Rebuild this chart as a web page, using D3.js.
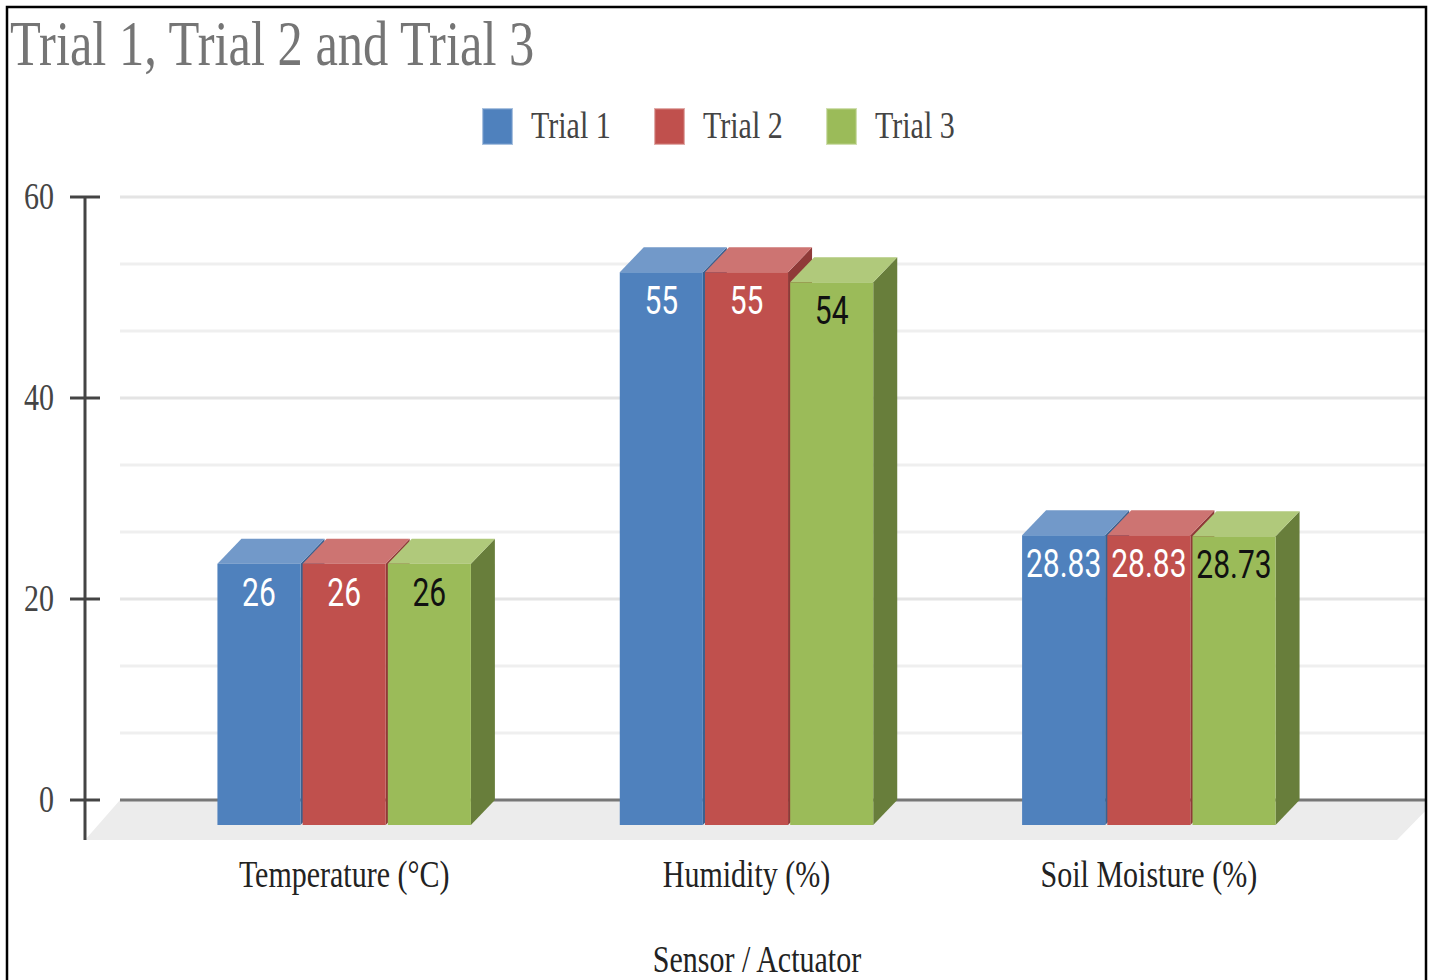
<!DOCTYPE html>
<html>
<head>
<meta charset="utf-8">
<script src="https://cdn.jsdelivr.net/npm/d3@7/dist/d3.min.js"></script>
<style>
html,body{margin:0;padding:0;background:#fff;}
svg{display:block;}
</style>
</head>
<body>
<svg id="chart" width="1432" height="980"></svg>
<script>
// ---- data ----
const categories = ["Temperature (°C)", "Humidity (%)", "Soil Moisture (%)"];
const seriesNames = ["Trial 1", "Trial 2", "Trial 3"];
const trial1 = [26, 55, 28.83];
const trial2 = [26, 55, 28.83];
const trial3 = [26, 54, 28.73];
const seriesValues = [trial1, trial2, trial3];
const yTicks = [0, 20, 40, 60];
const minorTicks = [20/3, 40/3, 80/3, 100/3, 140/3, 160/3];
const chartTitle = "Trial 1, Trial 2 and Trial 3";
const xAxisTitle = "Sensor / Actuator";

// ---- styles ----
const colors = {
  front: ["#4F81BD", "#C0504D", "#9BBB59"],
  top:   ["#7299C9", "#CD7472", "#B0C97B"],
  side:  ["#3A6190", "#8F3A38", "#687E3B"],
  label: ["#ffffff", "#ffffff", "#111111"]
};
const SERIF = "'Liberation Serif','Times New Roman',serif";
const SANS = "Roboto,'Liberation Sans',Arial,sans-serif";
const SY = 1.27; // vertical stretch of text in reference

const svg = d3.select("#chart");

const y = d3.scaleLinear().domain([0, 60]).range([800, 197]);
const x0 = d3.scaleBand().domain(categories).range([143, 1350]).paddingInner(0.37).paddingOuter(0.185);
const x1 = d3.scaleBand().domain(seriesNames).range([0, x0.bandwidth()]).paddingInner(0.025);
const DX = 24, DY = 25;

function stext(parent, x, yy, str, size, family, fill, anchor) {
  const g = parent.append("g").attr("transform", `translate(${x},${yy}) scale(1,${SY})`);
  g.append("text").attr("x", 0).attr("y", 0)
    .attr("text-anchor", anchor || "start")
    .style("font-family", family).style("font-size", size + "px")
    .attr("fill", fill).text(str);
  return g;
}

// clip to inside of border
svg.append("defs").append("clipPath").attr("id", "inner")
  .append("rect").attr("x", 7).attr("y", 7).attr("width", 1419).attr("height", 990);
const root = svg.append("g").attr("clip-path", "url(#inner)");

// title
stext(root, 10, 65, chartTitle, 50.5, SERIF, "#757575", "start");

// legend
const legend = root.append("g");
seriesNames.forEach((s, i) => {
  const lx = 482 + i * 172;
  legend.append("rect").attr("x", lx + 1).attr("y", 109).attr("width", 29).attr("height", 35)
    .attr("fill", colors.front[i]).attr("stroke", colors.top[i]).attr("stroke-width", 2).attr("stroke-opacity", 0.6);
  stext(legend, lx + 49, 138, s, 30, SERIF, "#444", "start");
});

// gridlines
const grid = root.append("g");
grid.selectAll("line.minor").data(minorTicks).join("line")
  .attr("x1", 120).attr("x2", 1425)
  .attr("y1", d => y(d)).attr("y2", d => y(d))
  .attr("stroke", "#efefef").attr("stroke-width", 3);
grid.selectAll("line.major").data(yTicks.filter(d => d !== 0)).join("line")
  .attr("x1", 120).attr("x2", 1425)
  .attr("y1", d => y(d)).attr("y2", d => y(d))
  .attr("stroke", "#e4e4e4").attr("stroke-width", 3);

// floor
root.append("polygon")
  .attr("points", [[120, y(0)], [1436, y(0)], [1397, y(0) + 40], [85, y(0) + 40]].map(p => p.join(",")).join(" "))
  .attr("fill", "#ececec");
root.append("line").attr("x1", 120).attr("x2", 1425).attr("y1", y(0)).attr("y2", y(0))
  .attr("stroke", "#777").attr("stroke-width", 3);

// y axis
const yAxis = root.append("g");
yAxis.append("line").attr("x1", 85).attr("x2", 85).attr("y1", y(60)).attr("y2", y(0) + 40)
  .attr("stroke", "#444").attr("stroke-width", 3);
yAxis.selectAll("line.tick").data(yTicks).join("line")
  .attr("x1", 70).attr("x2", 100).attr("y1", d => y(d)).attr("y2", d => y(d))
  .attr("stroke", "#444").attr("stroke-width", 3);
yTicks.forEach(t => stext(yAxis, 54, y(t) + 12, String(t), 30, SERIF, "#444", "end"));

// bars
const bars = root.append("g");
categories.forEach((c, ci) => {
  seriesNames.forEach((s, si) => {
    const v = seriesValues[si][ci];
    const fx = x0(c) + x1(s);
    const w = x1.bandwidth();
    const ft = y(v) + DY, fb = y(0) + DY;
    const g = bars.append("g");
    g.append("polygon").attr("points", [[fx + w, ft], [fx + w + DX, ft - DY], [fx + w + DX, fb - DY], [fx + w, fb]].map(p => p.join(",")).join(" "))
      .attr("fill", colors.side[si]);
    g.append("polygon").attr("points", [[fx, ft], [fx + DX, ft - DY], [fx + w + DX, ft - DY], [fx + w, ft]].map(p => p.join(",")).join(" "))
      .attr("fill", colors.top[si]);
    g.append("rect").attr("x", fx).attr("y", ft).attr("width", w).attr("height", fb - ft)
      .attr("fill", colors.front[si]);
    stext(g, fx + w / 2, ft + 42, String(v), 30, SANS, colors.label[si], "middle");
  });
});

// category labels
categories.forEach(c => stext(root, x0(c) + x0.bandwidth() / 2, 887, c, 30, SERIF, "#222", "middle"));

// x axis title
stext(root, 757, 972, xAxisTitle, 30, SERIF, "#222", "middle");

// border on top
svg.append("rect").attr("x", 7).attr("y", 7).attr("width", 1419).attr("height", 990)
  .attr("fill", "none").attr("stroke", "#000").attr("stroke-width", 2.5);
</script>
</body>
</html>
